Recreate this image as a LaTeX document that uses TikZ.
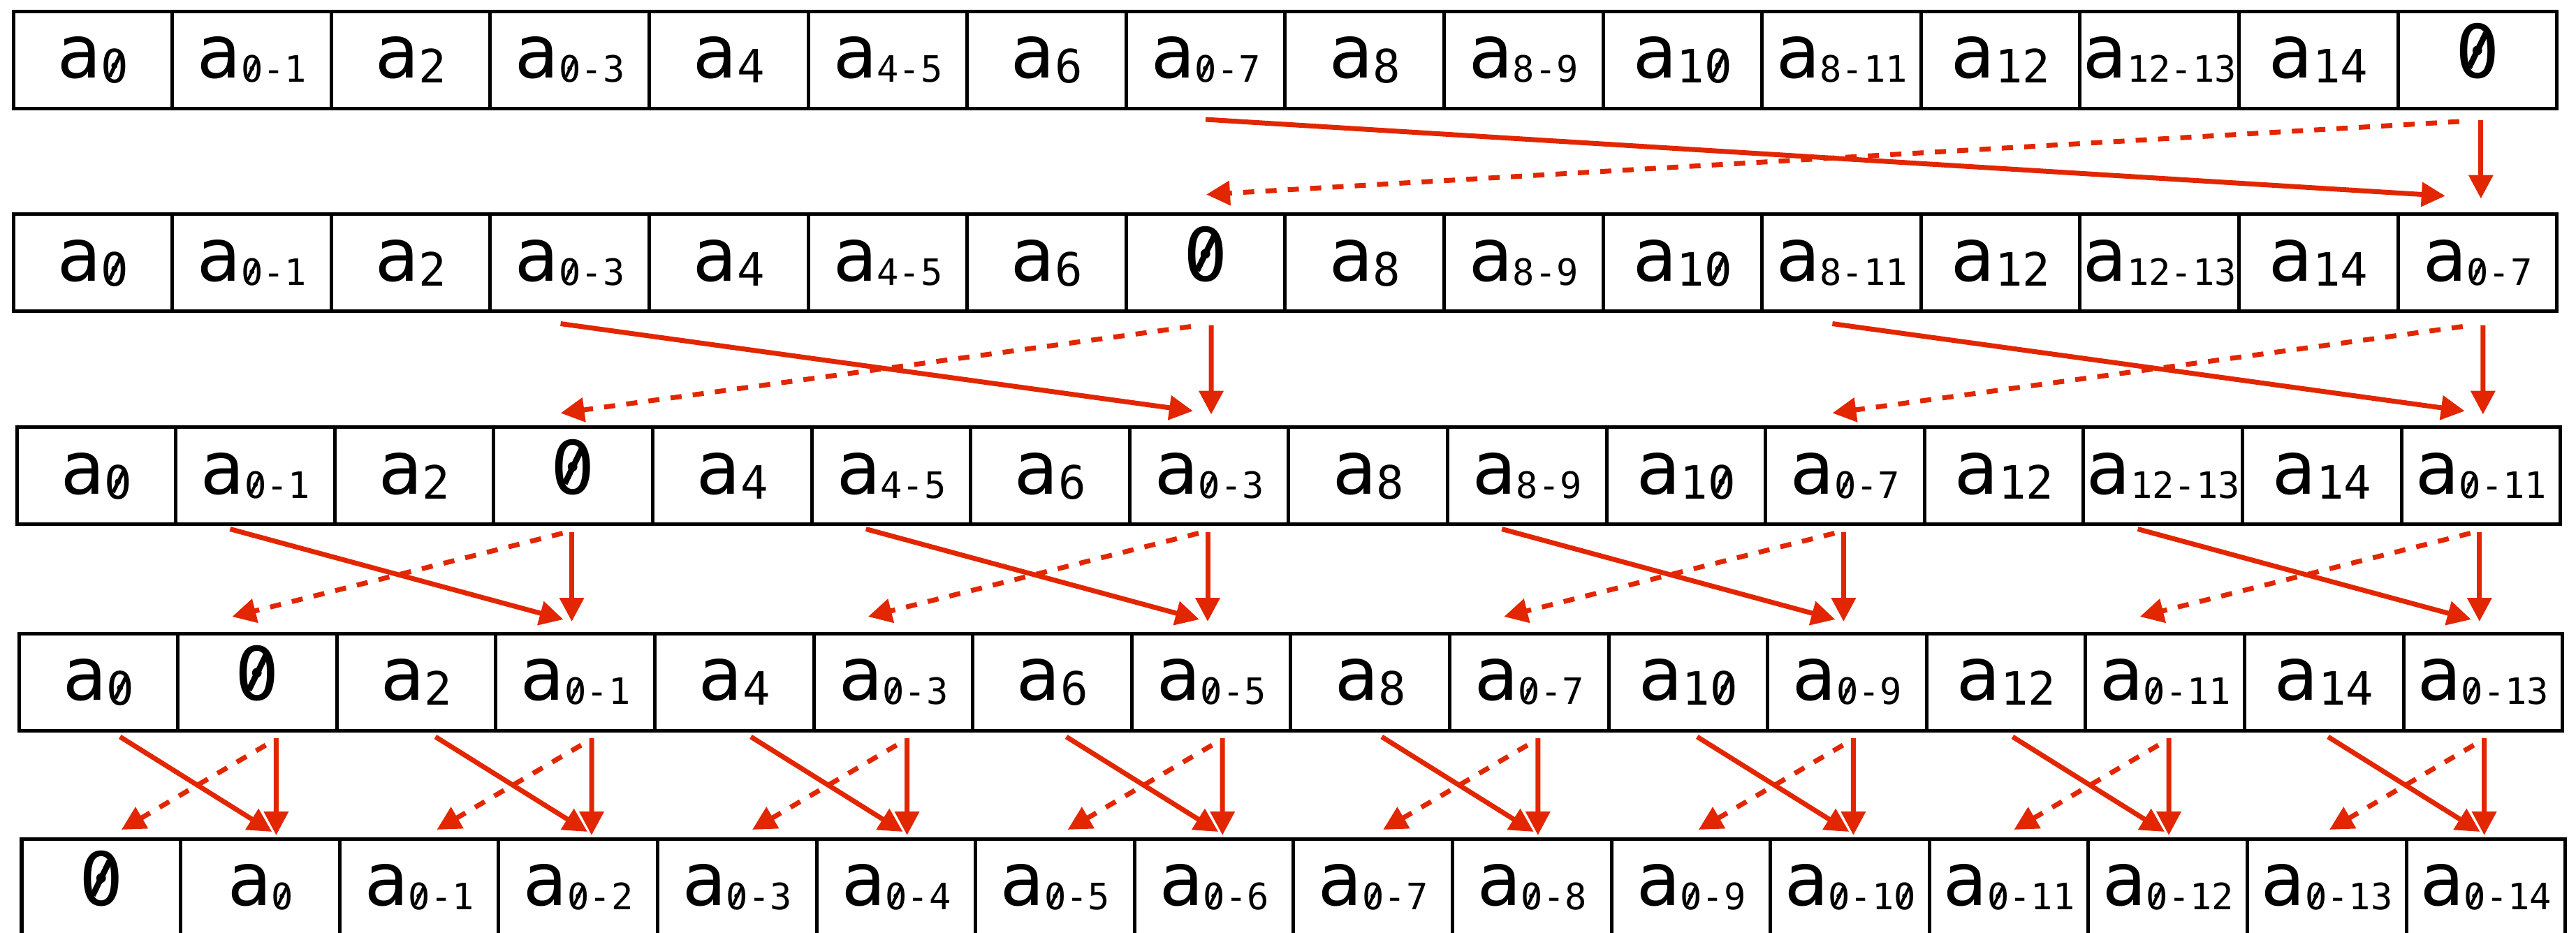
\documentclass[tikz,border=0pt]{standalone}
\usepackage{fontspec}
\setmainfont{DejaVu Sans Mono}
\usepackage{graphicx}
\usepackage{tikz}
\usetikzlibrary{arrows.meta,calc,positioning}

\definecolor{scanred}{RGB}{226,38,0}
% slashed zero
\newcommand{\zro}{\ooalign{0\cr\hidewidth\raisebox{0.12em}{\rotatebox{64}{\rule{0.52em}{0.08em}}}\hidewidth\cr}}
\newcommand{\aone}[1]{a\raisebox{-0.07cm}{\fontsize{18.7pt}{19pt}\selectfont #1}}
\newcommand{\aran}[1]{a\raisebox{-0.06cm}{\fontsize{14.8pt}{15pt}\selectfont #1}}

\tikzset{
  cell/.style={draw, line width=0.05cm, minimum width=2.276cm, minimum height=1.39cm,
    inner sep=0pt, outer sep=0pt, text height=0.7cm, text depth=0.18cm,
    font=\fontsize{30pt}{30pt}\selectfont},
  link/.style={scanred, line width=0.07cm, -{Triangle[length=0.34cm,width=0.34cm]}},
  addarrow/.style={link},
  putarrow/.style={link, dash pattern=on 0.16cm off 0.16cm},
  keeparrow/.style={link}
}

\begin{document}
\begin{tikzpicture}
\useasboundingbox (0,0) rectangle (36.88,-13.35);

\foreach \lab [count=\i from 0] in {\aone{\zro},\aran{\zro-1},\aone{2},\aran{\zro-3},\aone{4},\aran{4-5},\aone{6},\aran{\zro-7},\aone{8},\aran{8-9},\aone{1\zro},\aran{8-11},\aone{12},\aran{12-13},\aone{14},\zro}
  \node[cell] (r1c\i) at ({0.19+(\i+0.5)*2.276},-0.855) {\lab};
\foreach \lab [count=\i from 0] in {\aone{\zro},\aran{\zro-1},\aone{2},\aran{\zro-3},\aone{4},\aran{4-5},\aone{6},\zro,\aone{8},\aran{8-9},\aone{1\zro},\aran{8-11},\aone{12},\aran{12-13},\aone{14},\aran{\zro-7}}
  \node[cell] (r2c\i) at ({0.19+(\i+0.5)*2.276},-3.76) {\lab};
\foreach \lab [count=\i from 0] in {\aone{\zro},\aran{\zro-1},\aone{2},\zro,\aone{4},\aran{4-5},\aone{6},\aran{\zro-3},\aone{8},\aran{8-9},\aone{1\zro},\aran{\zro-7},\aone{12},\aran{12-13},\aone{14},\aran{\zro-11}}
  \node[cell] (r3c\i) at ({0.24+(\i+0.5)*2.276},-6.81) {\lab};
\foreach \lab [count=\i from 0] in {\aone{\zro},\zro,\aone{2},\aran{\zro-1},\aone{4},\aran{\zro-3},\aone{6},\aran{\zro-5},\aone{8},\aran{\zro-7},\aone{1\zro},\aran{\zro-9},\aone{12},\aran{\zro-11},\aone{14},\aran{\zro-13}}
  \node[cell] (r4c\i) at ({0.27+(\i+0.5)*2.276},-9.765) {\lab};
\foreach \lab [count=\i from 0] in {\zro,\aran{\zro},\aran{\zro-1},\aran{\zro-2},\aran{\zro-3},\aran{\zro-4},\aran{\zro-5},\aran{\zro-6},\aran{\zro-7},\aran{\zro-8},\aran{\zro-9},\aran{\zro-1\zro},\aran{\zro-11},\aran{\zro-12},\aran{\zro-13},\aran{\zro-14}}
  \node[cell] (r5c\i) at ({0.31+(\i+0.5)*2.276},-12.705) {\lab};

% row 1 to row 2
\draw[addarrow] ($(r1c7.south)+(0,-0.16)$) -- ($(r2c15.north)+(-0.46,0.26)$);
\draw[putarrow] ($(r1c15.south)+(-0.26,-0.19)$) -- ($(r2c7.north)+(0.01,0.28)$);
\draw[keeparrow] ($(r1c15.south)+(0.05,-0.17)$) -- ($(r2c15.north)+(0.05,0.22)$);

% row 2 to row 3
\foreach \lc/\rc in {3/7,11/15}{
  \draw[addarrow] ($(r2c\lc.south)+(-0.13,-0.18)$) -- ($(r3c\rc.north)+(-0.23,0.23)$);
  \draw[putarrow] ($(r2c\rc.south)+(-0.21,-0.22)$) -- ($(r3c\lc.north)+(-0.18,0.2)$);
  \draw[keeparrow] ($(r2c\rc.south)+(0.08,-0.2)$) -- ($(r3c\rc.north)+(0.03,0.18)$);
}

% row 3 to row 4
\foreach \lc/\rc in {1/3,5/7,9/11,13/15}{
  \draw[addarrow] ($(r3c\lc.south)+(-0.36,-0.07)$) -- ($(r4c\rc.north)+(-0.17,0.2)$);
  \draw[putarrow] ($(r3c\rc.south)+(-0.15,-0.13)$) -- ($(r4c\lc.north)+(-0.36,0.24)$);
  \draw[keeparrow] ($(r3c\rc.south)+(-0.02,-0.11)$) -- ($(r4c\rc.north)+(-0.05,0.17)$);
}

% row 4 to row 5
\foreach \lc/\rc in {0/1,2/3,4/5,6/7,8/9,10/11,12/13,14/15}{
  \draw[addarrow] ($(r4c\lc.south)+({0.31-0.018*\lc},-0.09)$) -- ($(r5c\rc.north)+({0.17-0.018*\lc},0.1)$);
  \draw[putarrow] ($(r4c\rc.south)+({0.12-0.018*\lc},-0.21)$) -- ($(r5c\lc.north)+({0.29-0.018*\lc},0.13)$);
  \draw[keeparrow] ($(r4c\rc.south)+({0.27-0.018*\lc},-0.11)$) -- ($(r5c\rc.north)+({0.23-0.018*\lc},0.05)$);
}
\end{tikzpicture}
\end{document}
